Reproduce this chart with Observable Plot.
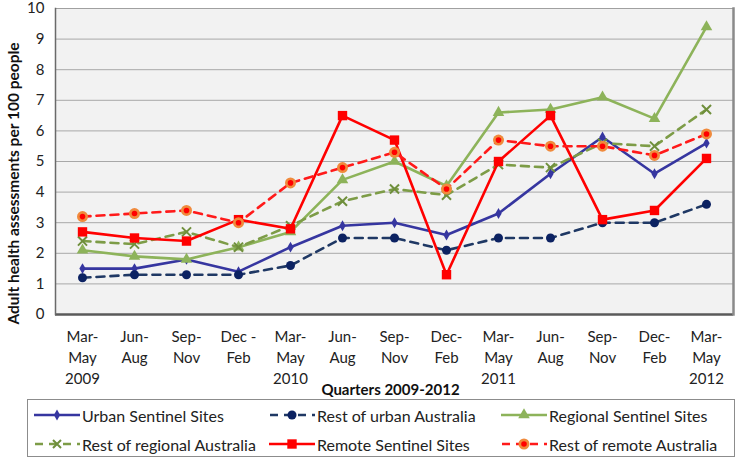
<!DOCTYPE html>
<html><head><meta charset="utf-8">
<script src="https://cdn.jsdelivr.net/npm/d3@7"></script>
<script src="https://cdn.jsdelivr.net/npm/@observablehq/plot@0.6"></script>
<style>
body{margin:0;background:#fff;font-family:Lato,"Open Sans",sans-serif;}
#chart{width:737px;height:460px;position:relative;overflow:hidden}
#chart svg.plot{display:block}
.legend{position:absolute;left:27px;top:399px;width:706px;height:56px;border:1px solid #8c8c8c;font-size:16px;color:#222;background:#fff}
.item{position:absolute;display:flex;align-items:center;white-space:nowrap;height:20px}
.item svg{margin-right:2px}
</style></head><body><div id="chart"></div>
<script>
// ---- data ----
const quarterLabels = ["Mar-\nMay\n2009","Jun-\nAug","Sep-\nNov","Dec -\nFeb","Mar-\nMay\n2010","Jun-\nAug","Sep-\nNov","Dec-\nFeb","Mar-\nMay\n2011","Jun-\nAug","Sep-\nNov","Dec-\nFeb","Mar-\nMay\n2012"];
const seriesNames = ["Urban Sentinel Sites","Rest of urban Australia","Regional Sentinel Sites","Rest of regional Australia","Remote Sentinel Sites","Rest of remote Australia"];
const urbanSentinel   = [1.5,1.5,1.8,1.4,2.2,2.9,3.0,2.6,3.3,4.6,5.8,4.6,5.6];
const restUrban       = [1.2,1.3,1.3,1.3,1.6,2.5,2.5,2.1,2.5,2.5,3.0,3.0,3.6];
const regionalSentinel= [2.1,1.9,1.8,2.2,2.7,4.4,5.0,4.2,6.6,6.7,7.1,6.4,9.4];
const restRegional    = [2.4,2.3,2.7,2.2,2.9,3.7,4.1,3.9,4.9,4.8,5.6,5.5,6.7];
const remoteSentinel  = [2.7,2.5,2.4,3.1,2.8,6.5,5.7,1.3,5.0,6.5,3.1,3.4,5.1];
const restRemote      = [3.2,3.3,3.4,3.0,4.3,4.8,5.3,4.1,5.7,5.5,5.5,5.2,5.9];
const yTicks = [0,1,2,3,4,5,6,7,8,9,10];
const yTitle = "Adult health assessments per 100 people";
const xTitle = "Quarters 2009-2012";

const seriesValues = [urbanSentinel,restUrban,regionalSentinel,restRegional,remoteSentinel,restRemote];
const rows = seriesNames.flatMap((name,s)=>seriesValues[s].map((v,i)=>({series:name,q:i,v})));

// ---- styles ----
const styles = [
  {stroke:"#3636a0", dash:null, symbol:"diamond", fill:"#3636a0", r:3.3},
  {stroke:"#1f3864", dash:"8,6", symbol:"circle", fill:"#0c2262", r:4.5},
  {stroke:"#8db35a", dash:null, symbol:"triangle", fill:"#8db35a", r:4.3},
  {stroke:"#7d9c47", dash:"8,6", symbol:"times", fill:"none", r:4.2, symStroke:"#6f8f3c"},
  {stroke:"#ff0000", dash:null, symbol:"square", fill:"#ff0000", r:5.3},
  {stroke:"#ff1a1a", dash:"8,6", symbol:"circle", fill:"#f08a3c", r:5.5, inner:"#ff0000"}
];

const marks = [
  Plot.frame({fill:"#f2f2f2", stroke:null}),
  Plot.gridY(yTicks,{stroke:"#a8a8a8", strokeOpacity:1, strokeWidth:1}),
  Plot.frame({stroke:"#a0a0a0", strokeWidth:1}),
  Plot.ruleY([0],{stroke:"#5a5a5a", strokeWidth:2.5}),
];
try {
  marks.push(Plot.frame({anchor:"left", stroke:"#6a6a6a", strokeWidth:1.5}));
  marks.push(Plot.frame({anchor:"right", stroke:"#8a8a8a", strokeWidth:2.5}));
} catch(e) {}
seriesNames.forEach((name,s)=>{
  const st = styles[s];
  const data = rows.filter(d=>d.series===name);
  marks.push(Plot.lineY(data,{x:"q", y:"v", stroke:st.stroke, strokeWidth:2.6, strokeDasharray:st.dash||undefined, curve:"linear"}));
  if (st.symbol === "times") {
    marks.push(Plot.dot(data,{x:"q", y:"v", symbol:"times", stroke:st.symStroke, strokeWidth:2, r:st.r}));
  } else {
    marks.push(Plot.dot(data,{x:"q", y:"v", symbol:st.symbol, fill:st.fill, stroke:null, r:st.r}));
  }
  if (st.inner) marks.push(Plot.dot(data,{x:"q", y:"v", fill:st.inner, stroke:null, r:2.8}));
});
marks.push(
  Plot.axisY(yTicks,{tickSize:0, tickPadding:11, fontSize:15, label:null, fill:"#222"}),
  Plot.axisX(d3.range(quarterLabels.length),{tickSize:0, tickPadding:13, fontSize:15, lineHeight:1.38, tickFormat:i=>quarterLabels[i], label:null, fill:"#222"}),
  Plot.text([yTitle],{frameAnchor:"left", textAnchor:"middle", rotate:-90, dx:-41, dy:22, fontSize:15.5, fontWeight:"bold", fill:"#111"}),
  Plot.text([xTitle],{frameAnchor:"bottom", dx:-4, dy:80, fontSize:15, fontWeight:"bold", fill:"#111"})
);

const chart = Plot.plot({
  width:737, height:399,
  marginTop:8, marginBottom:85, marginLeft:55, marginRight:4,
  style:{fontFamily:"Lato, 'Open Sans', sans-serif", background:"transparent", overflow:"visible"},
  x:{type:"point", domain:d3.range(quarterLabels.length), padding:0.5},
  y:{domain:[0,10]},
  marks
});
const root = document.getElementById("chart");
root.appendChild(chart);

// ---- legend ----
const legend = document.createElement("div");
legend.className = "legend";
const colX = [6,241,473], rowY = [5,34];
seriesNames.forEach((name,s)=>{
  const st = styles[s];
  const item = document.createElement("div");
  item.className = "item";
  item.style.left = colX[s%3]+"px";
  item.style.top = rowY[Math.floor(s/3)]+"px";
  const W = 46, H = 20, cx = W/2, cy = H/2;
  let sym = "";
  if (st.symbol==="times") {
    const a=4;
    sym = `<path d="M${cx-a},${cy-a}L${cx+a},${cy+a}M${cx-a},${cy+a}L${cx+a},${cy-a}" stroke="${st.symStroke}" stroke-width="2"/>`;
  } else {
    const t = {circle:d3.symbolCircle, diamond:d3.symbolDiamond, triangle:d3.symbolTriangle, square:d3.symbolSquare}[st.symbol];
    const p = d3.symbol(t, st.r*st.r*Math.PI)();
    sym = `<path transform="translate(${cx},${cy})" d="${p}" fill="${st.fill}"/>`;
    if (st.inner) sym += `<circle cx="${cx}" cy="${cy}" r="2.8" fill="${st.inner}"/>`;
  }
  item.innerHTML = `<svg width="${W}" height="${H}"><line x1="0" x2="${W}" y1="${cy}" y2="${cy}" stroke="${st.stroke}" stroke-width="2.6" ${st.dash?`stroke-dasharray="${st.dash}" stroke-dashoffset="-1"`:""}/>${sym}</svg><span>${name}</span>`;
  legend.appendChild(item);
});
root.appendChild(legend);
</script>
</body></html>
